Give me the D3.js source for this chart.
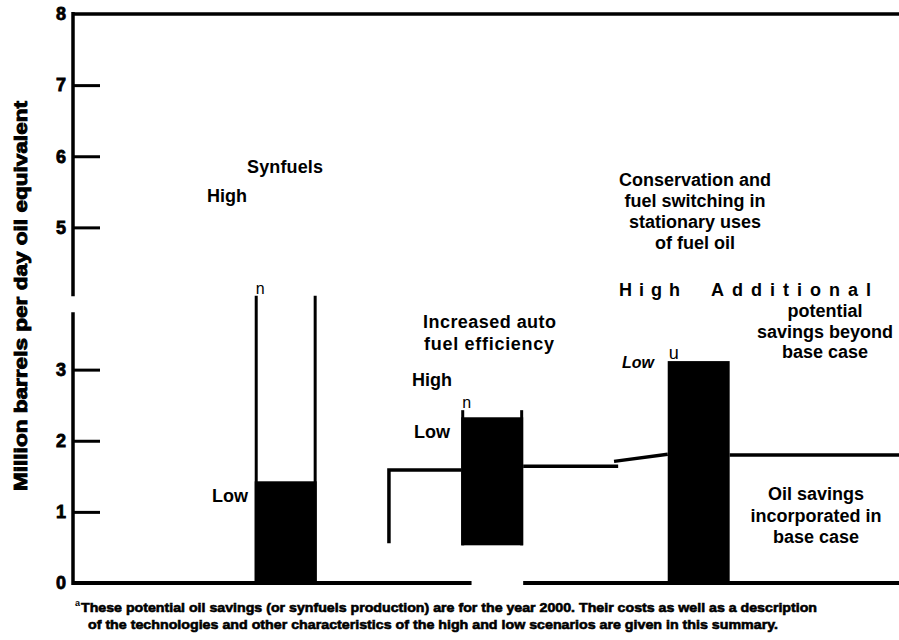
<!DOCTYPE html>
<html>
<head>
<meta charset="utf-8">
<script src="https://cdn.jsdelivr.net/npm/d3@7"></script>
<style>
  body { margin: 0; background: #fff; }
  svg { display: block; font-family: "Liberation Sans", Arial, Helvetica, sans-serif; }
</style>
</head>
<body>
<svg id="chart" width="899" height="640"></svg>
<script>
// three options, centred at group positions 1..3 on the x axis
var categories = ["Synfuels", "Increased auto fuel efficiency", "Conservation and fuel switching"];
var groupPos = [1, 2, 3];
var barBase = [0, 0.53, 0];       // bottom of each bar
var barLow = [1.43, 2.33, 3.12];  // low scenario (filled)
var barHigh = [4.04, 2.43, null]; // high scenario (outline, as far as it is printed)
var topMarks = ["n", "n", "u"];
var yTicks = [0, 1, 2, 3, 4, 5, 6, 7, 8];
// savings already in the base case, [group position, million bbl/day]
var baseCaseLines = [
  [[1.50, 0.56], [1.50, 1.59], [1.85, 1.59]],
  [[2.15, 1.64], [2.61, 1.64]],
  [[2.59, 1.71], [2.85, 1.81]],
  [[3.15, 1.80], [3.97, 1.80]]
];
var baselineParts = [[-0.03, 1.90], [2.15, 3.97]];
var axisBreak = [3.78, 4.06];
var footnote = [
  "These potential oil savings (or synfuels production) are for the year 2000. Their costs as well as a description",
  "of the technologies and other characteristics of the high and low scenarios are given in this summary."
];

var svg = d3.select("#chart");

var x = d3.scaleLinear().domain([-0.03, 3.97]).range([73, 899]);
var y = d3.scaleLinear().domain([0, 8]).range([583, 14]);
var halfW = 0.15;

var bars = categories.map(function(c, i) {
  return { name: c, pos: groupPos[i], base: barBase[i], low: barLow[i], high: barHigh[i], mark: topMarks[i] };
});

// filled part = low scenario
svg.selectAll("rect.low").data(bars).enter().append("rect")
  .attr("class", "low")
  .attr("x", d => x(d.pos - halfW))
  .attr("width", d => x(d.pos + halfW) - x(d.pos - halfW))
  .attr("y", d => y(d.low))
  .attr("height", d => y(d.base) - y(d.low))
  .attr("fill", "#000");

// outline sides up to the high scenario
var hi = bars.filter(d => d.high != null);
[-1, 1].forEach(function(side) {
  svg.selectAll("line.hi" + side).data(hi).enter().append("line")
    .attr("x1", d => x(d.pos + side * halfW) - side * 1.5)
    .attr("x2", d => x(d.pos + side * halfW) - side * 1.5)
    .attr("y1", d => y(d.high))
    .attr("y2", d => y(d.base))
    .attr("stroke", "#000")
    .attr("stroke-width", 3);
});

// small marks above each bar
svg.selectAll("text.mark").data(bars).enter().append("text")
  .attr("x", d => x(d.pos - halfW) + 1)
  .attr("y", d => y(d.high != null ? d.high : d.low) - 2)
  .attr("font-size", d => d.mark === "u" ? 18 : 16)
  .text(d => d.mark);

// base case line
var line = d3.line().x(d => x(d[0])).y(d => y(d[1]));
svg.selectAll("path.base").data(baseCaseLines).enter().append("path")
  .attr("d", line)
  .attr("fill", "none")
  .attr("stroke", "#000")
  .attr("stroke-width", 3.5);

// zero line (broken by the scan)
svg.selectAll("line.zero").data(baselineParts).enter().append("line")
  .attr("x1", d => x(d[0])).attr("x2", d => x(d[1]))
  .attr("y1", y(0)).attr("y2", y(0))
  .attr("stroke", "#000").attr("stroke-width", 4);

// top frame line
svg.append("line")
  .attr("x1", x(-0.03)).attr("x2", x(3.97))
  .attr("y1", y(8)).attr("y2", y(8))
  .attr("stroke", "#000").attr("stroke-width", 3.5);

// y axis: vertical rule with a break near 4
svg.selectAll("line.yaxis").data([[0, axisBreak[0]], [axisBreak[1], 8]]).enter().append("line")
  .attr("x1", x(-0.03)).attr("x2", x(-0.03))
  .attr("y1", d => y(d[0]) + 2).attr("y2", d => y(d[1]) - 2)
  .attr("stroke", "#000").attr("stroke-width", 3.5);

svg.append("clipPath").attr("id", "cut")
  .append("rect").attr("x", 0).attr("y", 0).attr("width", 899).attr("height", y(axisBreak[1]) + 2);

var yAxis = svg.append("g")
  .attr("transform", "translate(" + x(-0.03) + ",0)")
  .call(d3.axisLeft(y).tickValues(yTicks).tickFormat(d3.format("d")).tickSizeInner(-27).tickSizeOuter(0).tickPadding(7));
yAxis.select(".domain").remove();
yAxis.selectAll(".tick line").attr("stroke", "#000").attr("stroke-width", 3)
  .filter(d => d === 4 || d === 0 || d === 8).remove();
yAxis.selectAll(".tick text")
  .attr("font-family", "'Liberation Sans', Arial, sans-serif")
  .attr("font-size", 18).attr("font-weight", "bold")
  .attr("stroke", "#000").attr("stroke-width", 0.8);
yAxis.selectAll(".tick").filter(d => d === 4).attr("clip-path", "url(#cut)");

// y axis title
svg.append("text")
  .attr("transform", "translate(27,296) rotate(-90)")
  .attr("text-anchor", "middle")
  .attr("font-size", 19).attr("font-weight", "bold")
  .attr("stroke", "#000").attr("stroke-width", 0.9)
  .attr("textLength", 390).attr("lengthAdjust", "spacingAndGlyphs")
  .text("Million barrels per day oil equivalent");

// annotations
function label(txt, px, py, opts) {
  opts = opts || {};
  var t = svg.append("text")
    .attr("x", px).attr("y", py)
    .attr("font-size", opts.size || 18)
    .attr("font-weight", opts.weight || "bold")
    .attr("text-anchor", opts.anchor || "start")
    .text(txt);
  if (opts.italic) t.attr("font-style", "italic");
  if (opts.len) t.attr("textLength", opts.len).attr("lengthAdjust", "spacing");
  return t;
}
function block(lines, cx, py, gap) {
  lines.forEach(function(l, i) { label(l, cx, py + i * gap, { anchor: "middle" }); });
}

label("Synfuels", 285, 173, { anchor: "middle", len: 76 });
label("High", 207, 202);
label("Low", 212, 502);

label("Increased auto", 423, 328, { len: 133 });
label("fuel efficiency", 424, 350, { len: 130 });
label("High", 412, 386);
label("Low", 414, 438);

block(["Conservation and", "fuel switching in", "stationary uses", "of fuel oil"], 695, 186, 21);
label("High", 619, 296, { len: 61 });
label("Additional", 711, 296, { len: 160 });
block(["potential", "savings beyond", "base case"], 825, 317, 20.5);
label("Low", 622, 368, { size: 16, italic: true });

block(["Oil savings", "incorporated in", "base case"], 816, 500, 21.5);

// footnote
svg.append("text").attr("x", 75).attr("y", 606)
  .attr("font-size", 9).attr("font-weight", "bold").text("a");
svg.selectAll("text.foot").data(footnote).enter().append("text")
  .attr("class", "foot")
  .attr("x", (d, i) => i ? 88 : 81)
  .attr("y", (d, i) => 612 + i * 17)
  .attr("font-size", 13).attr("font-weight", "bold")
  .attr("stroke", "#000").attr("stroke-width", 0.6)
  .attr("textLength", (d, i) => i ? 690 : 736)
  .attr("lengthAdjust", "spacingAndGlyphs")
  .text(d => d);
</script>
</body>
</html>
